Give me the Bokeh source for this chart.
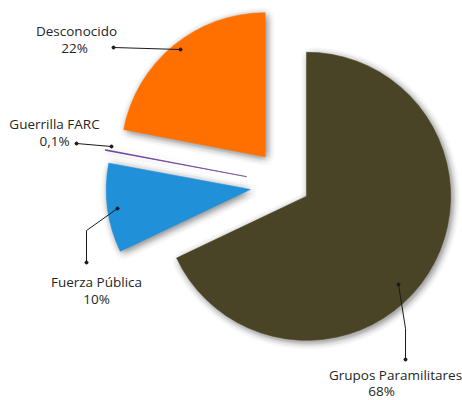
import numpy as np
from bokeh.plotting import figure
from bokeh.models import ColumnDataSource, Range1d
from bokeh.embed import file_html
from bokeh.resources import INLINE
from bokeh.core.properties import value

# ---- data ----
categories = ["Grupos Paramilitares", "Fuerza Pública", "Guerrilla FARC", "Desconocido"]
values = [68, 10, 0.1, 22]
pct_labels = ["68%", "10%", "0,1%", "22%"]
colors = ["#4A4426", "#2090D8", "#6B3A9A", "#FF7000"]

# ---- layout (screen pixel coordinates of the 462x400 page) ----
W, H = 462, 400
R = 144
CX, CY = 287.5, 184.0
explode = [22, 38, 42, 36]
label_pos = [(395, 374, 381, 390), (96, 281, 96, 298), (54, 123, 54, 140), (76, 30, 74, 47)]
leaders = [
    [(398, 284), (405, 328), (405, 359)],
    [(117, 208), (86, 230), (86, 262)],
    [(111, 146), (76, 143)],
    [(180, 49), (113, 47)],
]


def fy(sy):
    return H - sy


p = figure(width=W, height=H, x_range=Range1d(0, W), y_range=Range1d(0, H),
           output_backend="svg", toolbar_location=None,
           x_axis_type=None, y_axis_type=None, min_border=0)
p.outline_line_color = None
p.grid.visible = False
p.background_fill_color = "white"
p.border_fill_color = "white"

total = float(sum(values))
fr = np.array(values) / total
t2 = np.cumsum(fr) * 2 * np.pi
t1 = t2 - fr * 2 * np.pi
mid = (t1 + t2) / 2
xs = CX + np.array(explode) * np.sin(mid)
ys = fy(CY) + np.array(explode) * np.cos(mid)
start = np.pi / 2 - t1
end = np.pi / 2 - t2

# soft shadow approximation
sh = dict(x=[], y=[], s=[], e=[])
offs = [(0, 0)]
for r in (2.5, 5.0, 7.5):
    for a in np.linspace(0, 2 * np.pi, 12, endpoint=False):
        offs.append((r * np.cos(a), r * np.sin(a)))
for i in range(len(values)):
    for ox, oy in offs:
        sh["x"].append(xs[i] + 2 + ox)
        sh["y"].append(ys[i] - 2 + oy)
        sh["s"].append(start[i])
        sh["e"].append(end[i])
p.wedge(x="x", y="y", radius=R, start_angle="s", end_angle="e", direction="clock",
        source=ColumnDataSource(sh), fill_color="black", fill_alpha=0.016, line_color=None)

src = ColumnDataSource(dict(x=xs, y=ys, s=start, e=end, c=colors, cat=categories))
p.wedge(x="x", y="y", radius=R, start_angle="s", end_angle="e", direction="clock",
        source=src, fill_color="c", line_color="c", line_width=0.6)

# leader lines
for path in leaders:
    lx = [q[0] for q in path]
    ly = [fy(q[1]) for q in path]
    p.line(lx, ly, line_color="#1a1a1a", line_width=1)
    p.scatter([lx[0], lx[-1]], [ly[0], ly[-1]], size=3, color="#1a1a1a")

# labels
for i in range(len(values)):
    x1, y1, x2, y2 = label_pos[i]
    p.text([x1], [fy(y1)], text=[categories[i]], text_align="center", text_baseline="middle",
           text_font=value("Open Sans"), text_font_size="13.5px", text_color="#262626")
    p.text([x2], [fy(y2)], text=[pct_labels[i]], text_align="center", text_baseline="middle",
           text_font=value("Open Sans"), text_font_size="13.5px", text_color="#262626")

open("out.html", "w").write(file_html(p, INLINE))
